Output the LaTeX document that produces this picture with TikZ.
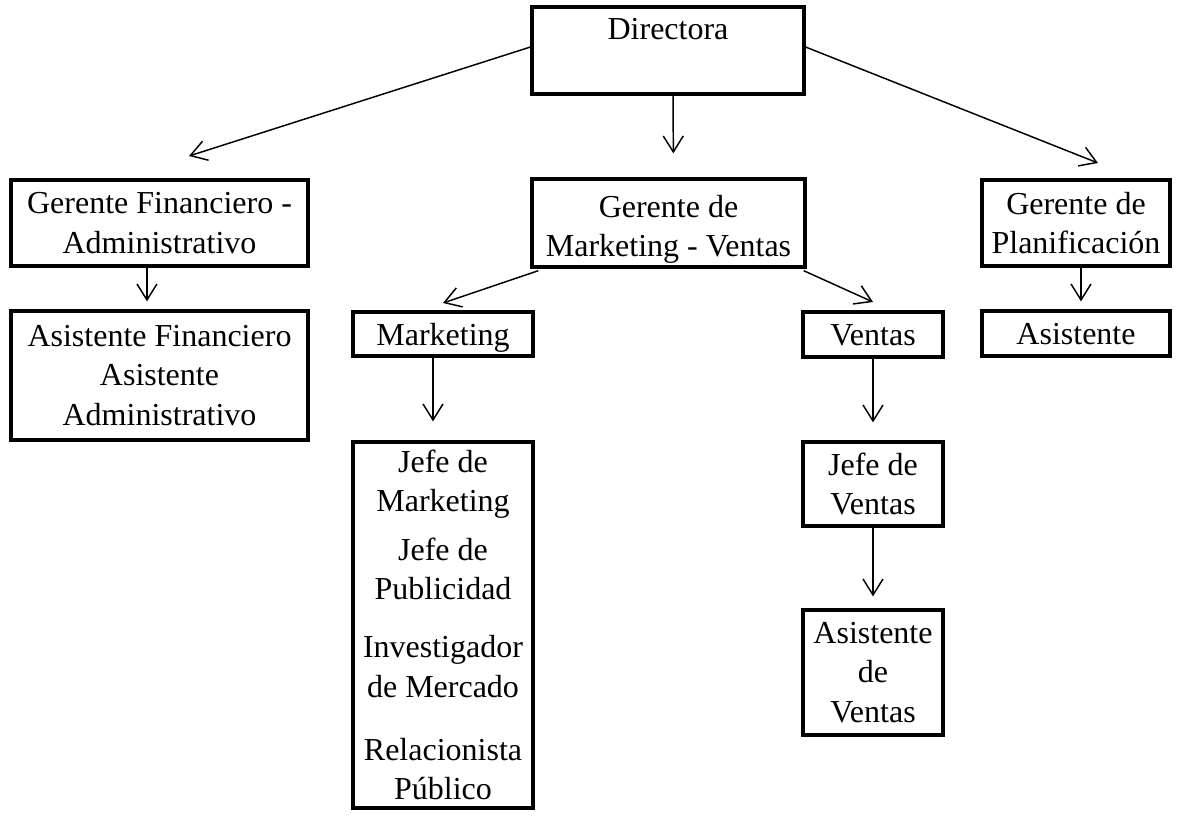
\documentclass[tikz,border=0pt]{standalone}
\usepackage{fontspec}
\setmainfont{Liberation Serif}
\usetikzlibrary{arrows.meta}
\begin{document}
\begin{tikzpicture}[x=0.75pt,y=-0.75pt,
  box/.style={draw, line width=2.5pt, rectangle, inner sep=0pt, align=center,
    font=\fontsize{24}{29.5}\selectfont},
  single/.style={text height=20pt, text depth=3.5pt},
  arr/.style={line width=1.1pt, -{Straight Barb[length=12pt,width=15pt,line width=1.1pt]}}]
\useasboundingbox (0,0) rectangle (1177,819);
% nodes
\node[box, minimum width=204pt, minimum height=65.25pt,
  label={[anchor=base, inner sep=0pt, yshift=-25.5pt, font=\fontsize{24}{29.5}\selectfont]north:Directora}]
  (dir) at (668,50.5) {};
\node[box, minimum width=222.75pt, minimum height=64.5pt] (gfa) at (159.5,223)
  {Gerente Financiero -\\Administrativo};
\node[box, minimum width=222.75pt, minimum height=96.75pt] (afa) at (159.5,375.5)
  {Asistente Financiero\\Asistente\\Administrativo};
\node[box, minimum width=204.75pt, minimum height=66pt] (gmv) at (668.5,223)
  {\rule{0pt}{26pt}Gerente de\\Marketing - Ventas};
\node[box, single, minimum width=135pt, minimum height=33pt] (mkt) at (443,334) {Marketing};
\node[box, minimum width=135pt, minimum height=274.5pt] (jm) at (443,625)
  {Jefe de\\Marketing\\[7pt]Jefe de\\Publicidad\\[14pt]Investigador\\de Mercado\\[18pt]Relacionista\\Público};
\node[box, single, minimum width=105pt, minimum height=33.75pt] (ven) at (873,334.5) {Ventas};
\node[box, minimum width=105pt, minimum height=63pt] (jv) at (873,484) {Jefe de\\Ventas};
\node[box, minimum width=105pt, minimum height=93.75pt] (av) at (873,672.5) {Asistente\\de\\Ventas};
\node[box, minimum width=141pt, minimum height=64.5pt] (gp) at (1076,223) {Gerente de\\Planificación};
\node[box, single, minimum width=141pt, minimum height=33.75pt] (asi) at (1076,333.5) {Asistente};
% free ends
\coordinate (t1) at (189,156);
\coordinate (t2) at (1098,163);
\coordinate (t3) at (443,303);
\coordinate (t4) at (873,302);
% connectors
\draw[arr, shorten >=18pt] ([xshift=3.75pt]dir.south) -- ([xshift=3.75pt]gmv.north);
\draw[arr] ([yshift=2.6pt]dir.west) -- (t1);
\draw[arr] ([yshift=2.6pt]dir.east) -- (t2);
\draw[arr, shorten >=6pt] ([xshift=-9.4pt]gfa.south) -- ([xshift=-9.4pt]afa.north);
\draw[arr] ([xshift=6pt,yshift=-1.5pt]gmv.south west) -- (t3);
\draw[arr] ([xshift=-2.25pt,yshift=-1.5pt]gmv.south east) -- (t4);
\draw[arr, shorten >=14.25pt] ([xshift=-7.5pt]mkt.south) -- ([xshift=-7.5pt]jm.north);
\draw[arr, shorten >=13.5pt] (ven.south) -- (jv.north);
\draw[arr, shorten >=9pt] (jv.south) -- (av.north);
\draw[arr, shorten >=6pt] ([xshift=3.75pt]gp.south) -- ([xshift=3.75pt]asi.north);
\end{tikzpicture}
\end{document}
